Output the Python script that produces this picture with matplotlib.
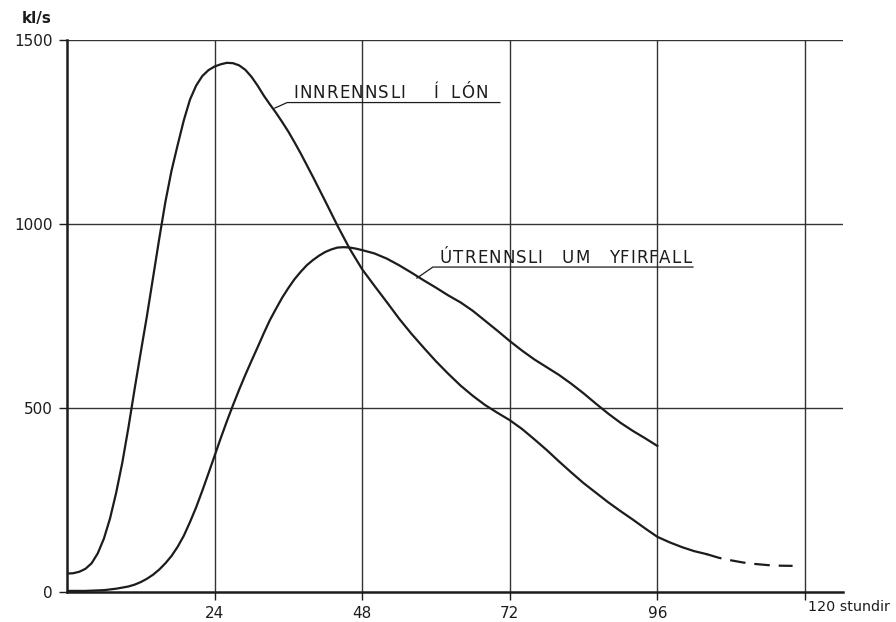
import matplotlib
matplotlib.use("Agg")
import matplotlib.pyplot as plt
from matplotlib.transforms import offset_copy
from matplotlib.font_manager import FontProperties

# Hydrograph: inflow to the reservoir and outflow over the spillway (hours, kl/s)
inflow_t = [0, 1, 2, 3, 4, 5, 6, 7, 8, 9, 10, 11, 12, 13, 14, 15, 16, 17, 18, 19,
            20, 21, 22, 23, 24, 25, 26, 27, 28, 29, 30, 31, 32, 33, 34, 35, 36, 37,
            38, 40, 42, 44, 46, 48, 50, 52, 54, 56, 58, 60, 62, 64, 66, 68, 70, 72,
            74, 76, 78, 80, 82, 84, 86, 88, 90, 92, 94, 96, 98, 100, 102, 104]
inflow_v = [50, 51, 55, 63, 78, 105, 145, 200, 270, 352, 448, 552, 652, 750, 855,
            960, 1060, 1145, 1215, 1282, 1338, 1376, 1402, 1418, 1428, 1434, 1438,
            1437, 1431, 1419, 1400, 1376, 1349, 1325, 1302, 1277, 1251, 1222, 1192,
            1128, 1062, 995, 932, 877, 832, 788, 743, 702, 664, 627, 593, 561, 533,
            508, 487, 467, 443, 415, 386, 355, 325, 296, 270, 244, 220, 197, 173,
            150, 135, 122, 111, 103]
inflow_tail_t = [104, 106, 108, 110, 112, 114, 116, 118]
inflow_tail_v = [103, 93, 86, 80, 76, 73, 71.5, 71]

outflow_t = [0, 3, 6, 8, 10, 11, 12, 13, 14, 15, 16, 17, 18, 19, 20, 21, 22, 23, 24,
             25, 26, 27, 28, 29, 30, 31, 32, 33, 34, 35, 36, 37, 38, 39, 40, 41, 42,
             43, 44, 45, 46, 47, 48, 50, 52, 54, 56, 58, 60, 62, 64, 66, 68, 70, 72,
             74, 76, 78, 80, 82, 84, 86, 88, 90, 92, 94, 96]
outflow_v = [3, 3, 5, 9, 15, 20, 27, 36, 47, 61, 78, 98, 123, 153, 190, 230, 275,
             322, 370, 418, 464, 508, 550, 590, 628, 665, 703, 739, 770, 800, 826,
             850, 870, 888, 902, 914, 924, 931, 936, 937, 936, 933, 929, 920, 906,
             888, 868, 847, 827, 806, 787, 764, 737, 710, 682, 656, 632, 611, 590,
             566, 540, 512, 485, 460, 438, 418, 397]

x_ticks = [24, 48, 72, 96]
y_ticks = [0, 500, 1000, 1500]
inflow_words = ["INNRENNSLI", "Í", "LÓN"]
outflow_words = ["ÚTRENNSLI", "UM", "YFIRFALL"]

plt.rcParams["font.family"] = ["DejaVu Sans"]
ink = "#1c1c1c"

fig = plt.figure(figsize=(8.96, 6.22), dpi=100)
ax = fig.add_axes([67 / 896, 1 - 592 / 622, (843 - 67) / 896, (592 - 40) / 622])
ax.set_xlim(0, 126.2)
ax.set_ylim(0, 1500)

# grid
for xv in x_ticks + [120]:
    ax.axvline(xv, color="#333333", lw=1.0, zorder=1)
for yv in y_ticks[1:]:
    ax.axhline(yv, color="#333333", lw=1.0, zorder=1)

for s in ["top", "right"]:
    ax.spines[s].set_visible(False)
for s in ["left", "bottom"]:
    ax.spines[s].set_linewidth(1.8)
    ax.spines[s].set_color(ink)

ax.set_xticks(x_ticks + [120])
ax.set_xticklabels([str(v) for v in x_ticks] + [""])
ax.set_yticks(y_ticks)
ax.set_yticklabels([str(v) for v in y_ticks])
ax.tick_params(axis="both", direction="out", length=6, width=1.0, colors=ink,
               labelsize=11, pad=4)
ax.text(120.5, -22, "120 stundir", ha="left", va="top", fontsize=10.3, color=ink,
        clip_on=False)
fig.text(22 / 896, 1 - 19 / 622, "kl/s", ha="left", va="center", fontsize=11,
         color=ink, fontweight="bold")

# curves
ax.plot(inflow_t, inflow_v, color=ink, lw=1.6, zorder=3, solid_joinstyle="round")
ax.plot(inflow_tail_t, inflow_tail_v, color=ink, lw=1.6, zorder=3,
        linestyle=(0, (7, 4)))
ax.plot(outflow_t, outflow_v, color=ink, lw=1.6, zorder=3, solid_joinstyle="round")

renderer = fig.canvas.get_renderer()
label_font = FontProperties(family="DejaVu Sans", size=12)


def tracked_word(x, y, word, track_px):
    """Draw a word letter by letter with extra spacing between letters."""
    offset = 0.0
    for ch in word:
        tr = offset_copy(ax.transData, fig=fig, x=offset * 72 / fig.dpi, y=0,
                         units="points")
        ax.text(x, y, ch, transform=tr, ha="left", va="baseline",
                fontproperties=label_font, color=ink)
        w, _, _ = renderer.get_text_width_height_descent(ch, label_font, ismath=False)
        offset += w + track_px


# labels with leader lines
ax.plot([33.8, 35.8, 70.4], [1315, 1330, 1330], color=ink, lw=0.9, zorder=3)
for word, xw in zip(inflow_words, [36.75, 59.6, 62.4]):
    tracked_word(xw, 1343, word, 1.2)

ax.plot([56.9, 59.5, 101.8], [853, 883, 883], color=ink, lw=0.9, zorder=3)
for word, xw in zip(outflow_words, [60.65, 80.5, 88.1]):
    tracked_word(xw, 893, word, 1.0)

fig.savefig("out.png", dpi=100, facecolor="white")
